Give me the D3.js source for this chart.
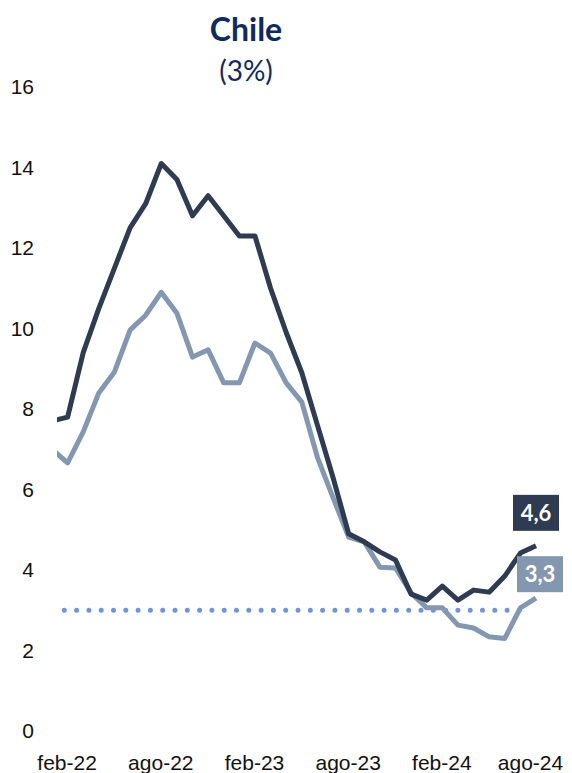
<!DOCTYPE html>
<html lang="es">
<head>
<meta charset="UTF-8">
<title>Chile</title>
<style>
  body { margin: 0; background: #fff; }
  svg { display: block; font-family: Lato, "Open Sans", sans-serif; }
  .tick-label { font-size: 21px; fill: #111; }
</style>
</head>
<body>
<svg id="chart"></svg>
<script src="https://d3js.org/d3.v7.min.js"></script>
<script>
// months shown (ene-22 sits just outside the plot, as in the original)
const months = ["ene-22","feb-22","mar-22","abr-22","may-22","jun-22","jul-22","ago-22","sep-22","oct-22","nov-22","dic-22",
                "ene-23","feb-23","mar-23","abr-23","may-23","jun-23","jul-23","ago-23","sep-23","oct-23","nov-23","dic-23",
                "ene-24","feb-24","mar-24","abr-24","may-24","jun-24","jul-24","ago-24"];
const headline = [7.7, 7.8, 9.4, 10.5, 11.5, 12.5, 13.1, 14.1, 13.7, 12.8, 13.3, 12.8,
                  12.3, 12.3, 11.0, 9.9, 8.9, 7.6, 6.3, 4.9, 4.7, 4.45, 4.25, 3.4,
                  3.25, 3.6, 3.25, 3.5, 3.45, 3.85, 4.42, 4.6];
const core = [7.0, 6.66, 7.43, 8.4, 8.92, 9.96, 10.33, 10.9, 10.38, 9.29, 9.47, 8.65,
              8.65, 9.64, 9.39, 8.65, 8.17, 6.8, 5.8, 4.82, 4.7, 4.07, 4.05, 3.43,
              3.06, 3.06, 2.63, 2.56, 2.34, 2.3, 3.06, 3.3];
const target = 3;
const yTicks = [0, 2, 4, 6, 8, 10, 12, 14, 16];
const xTickLabels = ["feb-22", "ago-22", "feb-23", "ago-23", "feb-24", "ago-24"];
const endLabels = ["4,6", "3,3"];

const w = 572, h = 773;
const darkColor = "#2e3b50", lightColor = "#8497b0", dotColor = "#7094d6", titleColor = "#0f2a5e";

const svg = d3.select("#chart").attr("width", w).attr("height", h);

const x = d3.scalePoint().domain(months).range([52, 536]);
const y = d3.scaleLinear().domain([0, 16]).range([731, 87]);

// title
svg.append("text").attr("x", 246).attr("y", 41).attr("text-anchor", "middle")
  .attr("font-size", 32).attr("font-weight", "bold").attr("fill", titleColor).text("Chile");
svg.append("text").attr("x", 246).attr("y", 81).attr("text-anchor", "middle")
  .attr("font-size", 28).attr("fill", titleColor).text("(3%)");

// y axis labels
const yAxis = d3.axisLeft(y).tickValues(yTicks).tickSize(0).tickPadding(0).tickFormat(d3.format("d"));
const gy = svg.append("g").attr("transform", "translate(34,0)").call(yAxis);
gy.select(".domain").remove();
gy.selectAll("text").attr("class", "tick-label").attr("font-family", null).attr("font-size", null);

// x axis labels
const xAxis = d3.axisBottom(x).tickValues(months.filter(m => xTickLabels.includes(m))).tickSize(0).tickPadding(0);
const gx = svg.append("g").attr("transform", "translate(-1,755)").call(xAxis);
gx.select(".domain").remove();
gx.selectAll("text").attr("class", "tick-label").attr("font-family", null).attr("font-size", null);
gx.selectAll(".tick").filter(d => d === "ago-24").select("text").attr("dx", -5);

svg.append("clipPath").attr("id", "plot-clip")
  .append("rect").attr("x", 57).attr("y", 0).attr("width", w - 57).attr("height", h);

const plot = svg.append("g").attr("clip-path", "url(#plot-clip)");

// target line
plot.append("line")
  .attr("x1", x(months[0])).attr("x2", x("jul-24") + 8)
  .attr("y1", y(target)).attr("y2", y(target))
  .attr("stroke", dotColor).attr("stroke-width", 5)
  .attr("stroke-linecap", "round").attr("stroke-dasharray", "0 12.3");

const line = d3.line().x((d, i) => x(months[i])).y(d => y(d));

plot.append("path").datum(core)
  .attr("d", line).attr("fill", "none").attr("stroke", lightColor)
  .attr("stroke-width", 5).attr("stroke-linejoin", "round");
plot.append("path").datum(headline)
  .attr("d", line).attr("fill", "none").attr("stroke", darkColor)
  .attr("stroke-width", 5).attr("stroke-linejoin", "round");

// end labels
const last = months.length - 1;
const boxes = [
  { text: endLabels[0], v: headline[last], fill: darkColor, dx: 0, dy: -33 },
  { text: endLabels[1], v: core[last], fill: lightColor, dx: 4, dy: -24 }
];
boxes.forEach(b => {
  const cx = x(months[last]) + b.dx, cy = y(b.v) + b.dy;
  svg.append("rect").attr("x", cx - 23).attr("y", cy - 18).attr("width", 46).attr("height", 36).attr("fill", b.fill);
  svg.append("text").attr("x", cx).attr("y", cy + 8).attr("text-anchor", "middle")
    .attr("font-size", 22).attr("font-weight", "bold").attr("fill", "#fff").text(b.text);
});
</script>
</body>
</html>
